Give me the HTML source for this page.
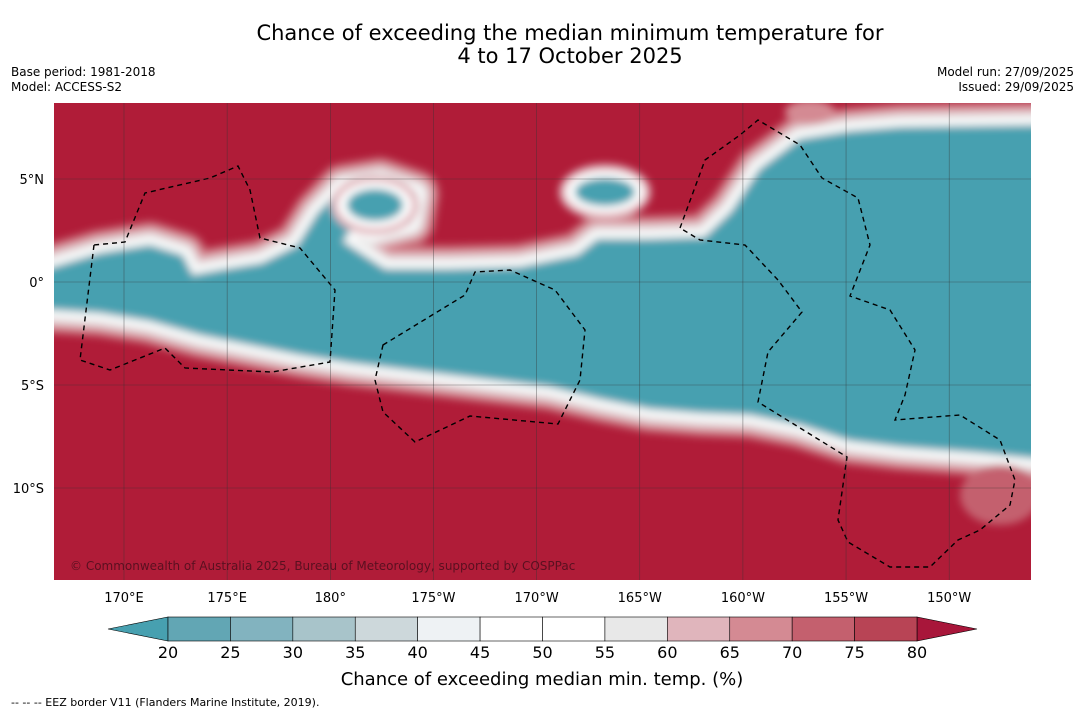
<!DOCTYPE html>
<html><head><meta charset="utf-8">
<style>
body{margin:0;background:#fff;font-family:"DejaVu Sans","Liberation Sans",sans-serif;}
#wrap{position:relative;width:1085px;height:713px;overflow:hidden;background:#fff;}
.t{position:absolute;font-size:12px;color:#000;}
svg text{font-family:"DejaVu Sans","Liberation Sans",sans-serif;}
</style></head><body>
<div id="wrap">
<div style="position:absolute;left:0;width:1140px;top:22px;text-align:center;font-size:21px;line-height:23px;">Chance of exceeding the median minimum temperature for<br>4 to 17 October 2025</div>
<div class="t" style="left:11px;top:65px;line-height:15px;">Base period: 1981-2018<br>Model: ACCESS-S2</div>
<div class="t" style="right:11px;top:65px;line-height:15px;text-align:right;">Model run: 27/09/2025<br>Issued: 29/09/2025</div>
<svg id="svg" width="1085" height="713" style="position:absolute;left:0;top:0" xmlns="http://www.w3.org/2000/svg">
<defs><clipPath id="mc"><rect x="54" y="103" width="977" height="477"/></clipPath>
<filter id="bl"><feGaussianBlur stdDeviation="4"/></filter></defs>
<g clip-path="url(#mc)">
<rect x="54" y="103" width="977" height="477" fill="#b01c38"/>
<g id="band" filter="url(#bl)"></g>
<g id="eez" fill="none" stroke="#000" stroke-width="1.4" stroke-dasharray="5,4"></g>
<g id="grid"></g>
<text x="70" y="570" font-size="12" fill="#5a1020">© Commonwealth of Australia 2025, Bureau of Meteorology, supported by COSPPac</text>
</g>
<g id="axes"></g>
<g id="cbar"></g>
<text x="542" y="685" font-size="18" text-anchor="middle">Chance of exceeding median min. temp. (%)</text>
<text x="11" y="706" font-size="11">--  --  -- EEZ border V11 (Flanders Marine Institute, 2019).</text>
</svg>
</div>
<script>
const levels=[20,25,30,35,40,45,50,55,60,65,70,75,80];
const binColors=["#62a6b4","#82b3bf","#a8c4ca","#cdd8db","#eef2f4","#ffffff","#ffffff","#e8e8e8","#e0b5bc","#d48a93","#c4606e","#b84455"];
const lowColor="#47a0b0", highColor="#a8163a";
const lonTicks=[170,175,180,185,190,195,200,205,210];
const lonLabels=["170°E","175°E","180°","175°W","170°W","165°W","160°W","155°W","150°W"];
const latTicks=[5,0,-5,-10];
const latLabels=["5°N","0°","5°S","10°S"];
const NS="http://www.w3.org/2000/svg";
const X=lon=>124+(lon-170)*20.63, Y=lat=>282-lat*20.6;
function mk(p,tag,a){const e=document.createElementNS(NS,tag);for(const k in a)e.setAttribute(k,a[k]);p.appendChild(e);return e;}
const band=document.getElementById('band');
const bandPath="M40,272 L100,254 L150,246 L182,256 L192,276 L225,270 L262,264 L298,246 L318,214 L343,188 L380,182 L415,194 L410,222 L372,232 L350,228 L342,242 L385,270 L450,270 L520,268 L578,256 L598,240 L650,240 L705,238 L732,212 L760,170 L800,140 L850,132 L900,128 L1040,126 L1040,458 L980,452 L900,446 L850,440 L800,424 L750,414 L700,412 L650,408 L600,398 L550,386 L500,380 L450,374 L400,368 L350,362 L300,354 L250,344 L200,334 L150,320 L100,312 L40,308 Z";
const strokes=[[50,"#c4606e"],[42,"#d48a93"],[34,"#e0b5bc"],[26,"#e8e8e8"],[16,"#ffffff"],[6,"#cdd8db"]];
strokes.forEach(s=>{const p=mk(band,'path',{d:bandPath,fill:s[1],stroke:s[1],'stroke-width':s[0],'stroke-linejoin':'round'});
});
const core=mk(band,'path',{d:bandPath,fill:lowColor});

[[375,205,28,16],[605,192,30,14]].forEach(b=>{
mk(band,'ellipse',{cx:b[0],cy:b[1],rx:b[2]+16,ry:b[3]+14,fill:"#e0b5bc"});
mk(band,'ellipse',{cx:b[0],cy:b[1],rx:b[2]+9,ry:b[3]+7,fill:"#fff"});
const e=mk(band,'ellipse',{cx:b[0],cy:b[1],rx:b[2],ry:b[3],fill:lowColor});
});
mk(band,'ellipse',{cx:1000,cy:495,rx:40,ry:30,fill:"#c4606e"});
mk(band,'ellipse',{cx:810,cy:112,rx:25,ry:12,fill:"#d48a93"});
const eez=document.getElementById('eez');
["M94,245 L80,360 L110,370 L165,348 L185,368 L272,372 L330,362 L335,290 L300,248 L260,238 L250,190 L238,166 L210,178 L145,193 L125,242 Z",
"M383,345 L465,295 L475,272 L510,270 L555,290 L585,330 L580,380 L558,424 L470,416 L415,442 L383,412 L375,380 Z",
"M680,228 L705,160 L740,135 L758,120 L800,145 L822,178 L858,198 L870,245 L850,296 L890,310 L915,350 L905,395 L895,420 L920,418 L960,415 L1000,440 L1015,480 L1010,505 L980,530 L958,540 L930,567 L890,567 L848,542 L838,520 L847,457 L758,402 L768,352 L802,312 L778,280 L745,245 L700,240 Z"].forEach(d=>{
const p=mk(eez,'path',{d});});
const grid=document.getElementById('grid'),axes=document.getElementById('axes');
lonTicks.forEach((v,i)=>{const l=mk(grid,'line',{x1:X(v),x2:X(v),y1:103,y2:580,stroke:"#333",'stroke-width':0.6,'stroke-opacity':0.6});

const t=mk(axes,'text',{x:X(v),y:602,'font-size':13,'text-anchor':'middle'});t.textContent=lonLabels[i];
});
latTicks.forEach((v,i)=>{const l=mk(grid,'line',{x1:54,x2:1031,y1:Y(v),y2:Y(v),stroke:"#333",'stroke-width':0.6,'stroke-opacity':0.6});

const t=mk(axes,'text',{x:44,y:Y(v)+5,'font-size':13,'text-anchor':'end'});t.textContent=latLabels[i];
});
const cb=document.getElementById('cbar');const cx0=168,cx1=917,cy=617,ch=24;
const C=v=>cx0+(v-levels[0])/(levels[levels.length-1]-levels[0])*(cx1-cx0);
const lt=mk(cb,'polygon',{points:`${cx0},${cy} ${cx0},${cy+ch} 108,${cy+ch/2}`,fill:lowColor,stroke:"#000",'stroke-width':0.6});

const ht=mk(cb,'polygon',{points:`${cx1},${cy} ${cx1},${cy+ch} 977,${cy+ch/2}`,fill:highColor,stroke:"#000",'stroke-width':0.6});

binColors.forEach((c,i)=>{const r=mk(cb,'rect',{x:C(levels[i]),y:cy,width:C(levels[i+1])-C(levels[i]),height:ch,fill:c,stroke:"#000",'stroke-width':0.6});
});
levels.forEach(v=>{const t=mk(cb,'text',{x:C(v),y:658,'font-size':16,'text-anchor':'middle'});t.textContent=v;
});
</script>
</body></html>
